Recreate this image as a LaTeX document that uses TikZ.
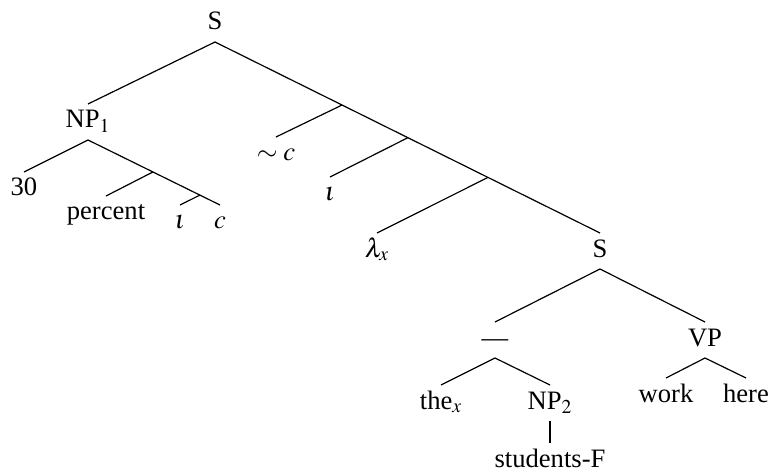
\documentclass[tikz,border=0pt]{standalone}
\usepackage{mathptmx}
\usepackage{fontspec}
\setmainfont{Liberation Serif}
\usetikzlibrary{calc}

\begin{document}
\begin{tikzpicture}[x=.5pt, y=-.5pt, line width=.6pt,
    every node/.style={font=\fontsize{13.3}{16}\selectfont},
    etiq/.style={anchor=base, inner sep=0pt, outer sep=0pt,
        text height=12pt, text depth=6pt}]
    \useasboundingbox (0,0) rectangle (771,470);

    % Etiquetas del árbol.
    \node[etiq] (S) at (215,30) {S};
    \node[etiq] (NPa) at (88,128) {NP$_1$};
    \node[etiq] (treinta) at (24,196) {30};
    \node[etiq] (percent) at (106,220) {percent};
    \node[etiq] (iotaa) at (180,229) {$\iota$};
    \node[etiq] (ca) at (220,229) {$c$};
    \node[etiq] (simc) at (276,161) {$\sim c$};
    \node[etiq] (iotab) at (330,201) {$\iota$};
    \node[etiq] (lambda) at (377,257) {$\lambda_x$};
    \node[etiq] (Sb) at (600,257) {S};
    \node[etiq] (guion) at (495,346) {---};
    \node[etiq] (VP) at (705,346) {VP};
    \node[etiq] (the) at (441,409) {the$_x$};
    \node[etiq] (NPb) at (550,409) {NP$_2$};
    \node[etiq, text depth=0pt] (students) at (550,467) {students-F};
    \node[etiq] (work) at (666,402) {work};
    \node[etiq] (here) at (746,402) {here};

    % Ramas de la espina principal.
    \coordinate (A) at ($(S.south)!.33!(Sb.north)$);
    \coordinate (B) at ($(S.south)!.501!(Sb.north)$);
    \coordinate (C) at ($(S.south)!.709!(Sb.north)$);
    \draw (S.south) -- (NPa.north);
    \draw (S.south) -- (Sb.north);
    \draw (A) -- (simc.north);
    \draw (B) -- (iotab.north);
    \draw (C) -- (lambda.north);

    % Subárbol de NP_1.
    \coordinate (X) at ($(NPa.south)!.492!(ca.north)$);
    \coordinate (Y) at ($(NPa.south)!.848!(ca.north)$);
    \draw (NPa.south) -- (treinta.north);
    \draw (NPa.south) -- (ca.north);
    \draw (X) -- (percent.north);
    \draw (Y) -- (iotaa.north);

    % Subárbol inferior.
    \draw (Sb.south) -- (guion.north);
    \draw (Sb.south) -- (VP.north);
    \draw (guion.south) -- (the.north);
    \draw (guion.south) -- (NPb.north);
    \draw (NPb.south) -- (students.north);
    \draw (VP.south) -- (work.north);
    \draw (VP.south) -- (here.north);
\end{tikzpicture}
\end{document}
